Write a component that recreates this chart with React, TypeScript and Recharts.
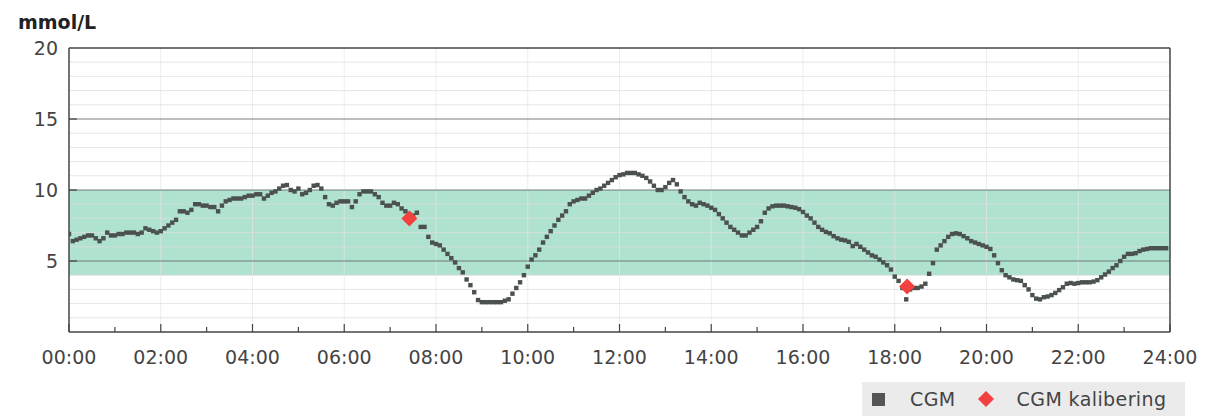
import React from 'react';
import {
  ComposedChart,
  ReferenceArea,
  ReferenceLine,
  Scatter,
  XAxis,
  YAxis,
} from 'recharts';

// CGM readings, one row per hour, every 5 minutes (mmol/L)
const CGM_VALUES: number[] = [
  6.9, 6.4, 6.5, 6.6, 6.7, 6.8, 6.8, 6.6, 6.4, 6.6, 7.0, 6.8,
  6.8, 6.9, 6.9, 7.0, 7.0, 7.0, 6.9, 7.0, 7.3, 7.2, 7.1, 7.0,
  7.1, 7.3, 7.5, 7.7, 7.9, 8.5, 8.5, 8.4, 8.6, 9.0, 9.0, 8.9,
  8.9, 8.8, 8.8, 8.5, 8.9, 9.2, 9.3, 9.4, 9.4, 9.4, 9.5, 9.6,
  9.6, 9.7, 9.7, 9.4, 9.6, 9.8, 9.9, 10.1, 10.3, 10.35, 10.0, 9.9,
  10.1, 9.7, 9.8, 10.0, 10.3, 10.35, 10.1, 9.5, 9.0, 8.9, 9.1, 9.2,
  9.2, 9.2, 8.8, 9.2, 9.7, 9.9, 9.9, 9.9, 9.7, 9.5, 9.1, 8.9,
  8.9, 9.1, 9.0, 8.7, 8.5, 8.3, 8.2, 8.4, 7.4, 7.4, 6.7, 6.3,
  6.2, 6.1, 5.8, 5.5, 5.2, 4.9, 4.5, 4.2, 3.7, 3.3, 2.8, 2.25,
  2.1, 2.1, 2.1, 2.1, 2.1, 2.1, 2.2, 2.3, 2.7, 3.1, 3.5, 4.0,
  4.6, 5.1, 5.4, 5.8, 6.3, 6.7, 7.1, 7.5, 7.9, 8.2, 8.5, 9.0,
  9.2, 9.3, 9.4, 9.4, 9.6, 9.8, 10.0, 10.1, 10.3, 10.5, 10.7, 10.9,
  11.05, 11.1, 11.2, 11.2, 11.2, 11.1, 11.0, 10.85, 10.6, 10.3, 10.0, 10.0,
  10.2, 10.5, 10.7, 10.4, 9.9, 9.5, 9.2, 9.0, 8.9, 9.1, 9.0, 8.9,
  8.75, 8.6, 8.3, 8.0, 7.7, 7.4, 7.2, 7.0, 6.8, 6.8, 7.0, 7.2,
  7.4, 7.8, 8.4, 8.7, 8.85, 8.9, 8.9, 8.9, 8.85, 8.8, 8.75, 8.65,
  8.45, 8.2, 8.0, 7.7, 7.4, 7.2, 7.05, 6.95, 6.75, 6.6, 6.5, 6.45,
  6.35, 6.05, 6.2, 6.0, 5.8, 5.6, 5.4, 5.3, 5.1, 4.9, 4.7, 4.4,
  3.9, 3.6, 3.1, 2.3, 3.0, 3.1, 3.1, 3.2, 3.4, 4.1, 4.85, 5.8,
  6.1, 6.4, 6.7, 6.9, 6.95, 6.9, 6.75, 6.6, 6.4, 6.3, 6.2, 6.1,
  6.0, 5.85, 5.4, 4.85, 4.35, 4.0, 3.85, 3.7, 3.65, 3.6, 3.3, 3.0,
  2.6, 2.35, 2.3, 2.45, 2.5, 2.6, 2.75, 2.95, 3.15, 3.4, 3.45, 3.4,
  3.45, 3.5, 3.5, 3.5, 3.55, 3.65, 3.85, 4.05, 4.25, 4.5, 4.7, 5.0,
  5.3, 5.5, 5.5, 5.55, 5.7, 5.8, 5.85, 5.9, 5.9, 5.9, 5.9, 5.9,
];

// calibration entries: hour of day, value
const CAL_TIMES = [7.42, 18.27];
const CAL_VALUES = [8.0, 3.2];

const X_TICKS = [0, 1, 2, 3, 4, 5, 6, 7, 8, 9, 10, 11, 12, 13, 14, 15, 16, 17, 18, 19, 20, 21, 22, 23, 24];
const X_GRID = [2, 4, 6, 8, 10, 12, 14, 16, 18, 20, 22];
const Y_TICKS = [0, 5, 10, 15, 20];
const Y_MINOR = [1, 2, 3, 4, 6, 7, 8, 9, 11, 12, 13, 14, 16, 17, 18, 19];
const Y_MAJOR = [5, 10, 15];
const TARGET_LOW = 4;
const TARGET_HIGH = 10;

const W = 1211;
const H = 418;
const TOP = 48;
const BOTTOM = 332;
const LEFT = 69;
const FONT = '"DejaVu Sans", sans-serif';

const cgmData = CGM_VALUES.map((v, i) => ({ t: i / 12, v }));
const calData = CAL_TIMES.map((t, i) => ({ t, v: CAL_VALUES[i] }));

const pad = (h: number) => `${h < 10 ? '0' : ''}${h}:00`;

function XTick(props: any) {
  const { x, payload } = props;
  const h = payload.value as number;
  const major = h % 2 === 0;
  return (
    <g>
      <line x1={x} x2={x} y1={BOTTOM} y2={BOTTOM - (major ? 8 : 5)} stroke="#444" strokeWidth={1.2} />
      {major && (
        <text x={x} y={357} textAnchor="middle" dominantBaseline="central" fontFamily={FONT} fontSize={19} fill="#444">
          {pad(h)}
        </text>
      )}
    </g>
  );
}

function YTick(props: any) {
  const { y, payload } = props;
  const v = payload.value as number;
  if (v === 0) return null;
  return (
    <g>
      {v < 20 && <line x1={LEFT} x2={LEFT + 8} y1={y} y2={y} stroke="#444" strokeWidth={1.2} />}
      <text x={58} y={y} textAnchor="end" dominantBaseline="central" fontFamily={FONT} fontSize={19} fill="#444">
        {v}
      </text>
    </g>
  );
}

const Square = (p: any) => <rect x={p.cx - 2.2} y={p.cy - 2.2} width={4.4} height={4.4} fill="#4a514f" />;
const Diamond = (p: any) => (
  <polygon
    points={`${p.cx},${p.cy - 8} ${p.cx + 8},${p.cy} ${p.cx},${p.cy + 8} ${p.cx - 8},${p.cy}`}
    fill="#f2413f"
  />
);

export default function App() {
  return (
    <div style={{ position: 'absolute', left: 0, top: 0, width: W, height: H, background: '#fff' }}>
      <div
        style={{
          position: 'absolute',
          left: 18,
          top: 10,
          fontFamily: FONT,
          fontWeight: 'bold',
          fontSize: 19,
          color: '#222',
          lineHeight: '24px',
        }}
      >
        mmol/L
      </div>
      <ComposedChart width={W} height={H} margin={{ top: TOP, right: 41, bottom: 56, left: 9 }}>
        <XAxis
          type="number"
          dataKey="t"
          domain={[0, 24]}
          ticks={X_TICKS}
          interval={0}
          tick={<XTick />}
          tickLine={false}
          axisLine={{ stroke: '#444', strokeWidth: 1.5 }}
          height={30}
          allowDataOverflow
        />
        <YAxis
          type="number"
          dataKey="v"
          domain={[0, 20]}
          ticks={Y_TICKS}
          interval={0}
          tick={<YTick />}
          tickLine={false}
          axisLine={{ stroke: '#444', strokeWidth: 1.5 }}
          width={60}
          allowDataOverflow
        />
        <ReferenceArea y1={TARGET_LOW} y2={TARGET_HIGH} fill="#a9e0cc" fillOpacity={0.92} stroke="none" ifOverflow="visible" />
        {X_GRID.map((h) => (
          <ReferenceLine key={`vx${h}`} x={h} stroke="#e6e6e6" strokeOpacity={0.7} />
        ))}
        {Y_MINOR.map((v) => (
          <ReferenceLine key={`hy${v}`} y={v} stroke="#dedede" strokeOpacity={0.75} />
        ))}
        {Y_MAJOR.map((v) => (
          <ReferenceLine key={`my${v}`} y={v} stroke="#5e6b66" strokeOpacity={0.85} />
        ))}
        <ReferenceLine y={20} stroke="#444" strokeWidth={1.5} />
        <ReferenceLine x={24} stroke="#444" strokeWidth={1.5} />
        <Scatter data={cgmData} dataKey="v" shape={Square} isAnimationActive={false} />
        <Scatter data={calData} dataKey="v" shape={Diamond} isAnimationActive={false} />
      </ComposedChart>
      <div
        style={{
          position: 'absolute',
          left: 862,
          top: 382,
          width: 323,
          height: 34,
          background: '#ebebeb',
          display: 'flex',
          alignItems: 'center',
          fontFamily: FONT,
          fontSize: 19,
          color: '#444',
          letterSpacing: 0.4,
        }}
      >
        <span style={{ width: 13, height: 13, background: '#555', marginLeft: 10, marginRight: 25 }} />
        <span>CGM</span>
        <svg width={18} height={18} style={{ marginLeft: 21, marginRight: 22 }}>
          <polygon points="9,1 17,9 9,17 1,9" fill="#f2413f" />
        </svg>
        <span>CGM kalibering</span>
      </div>
    </div>
  );
}
